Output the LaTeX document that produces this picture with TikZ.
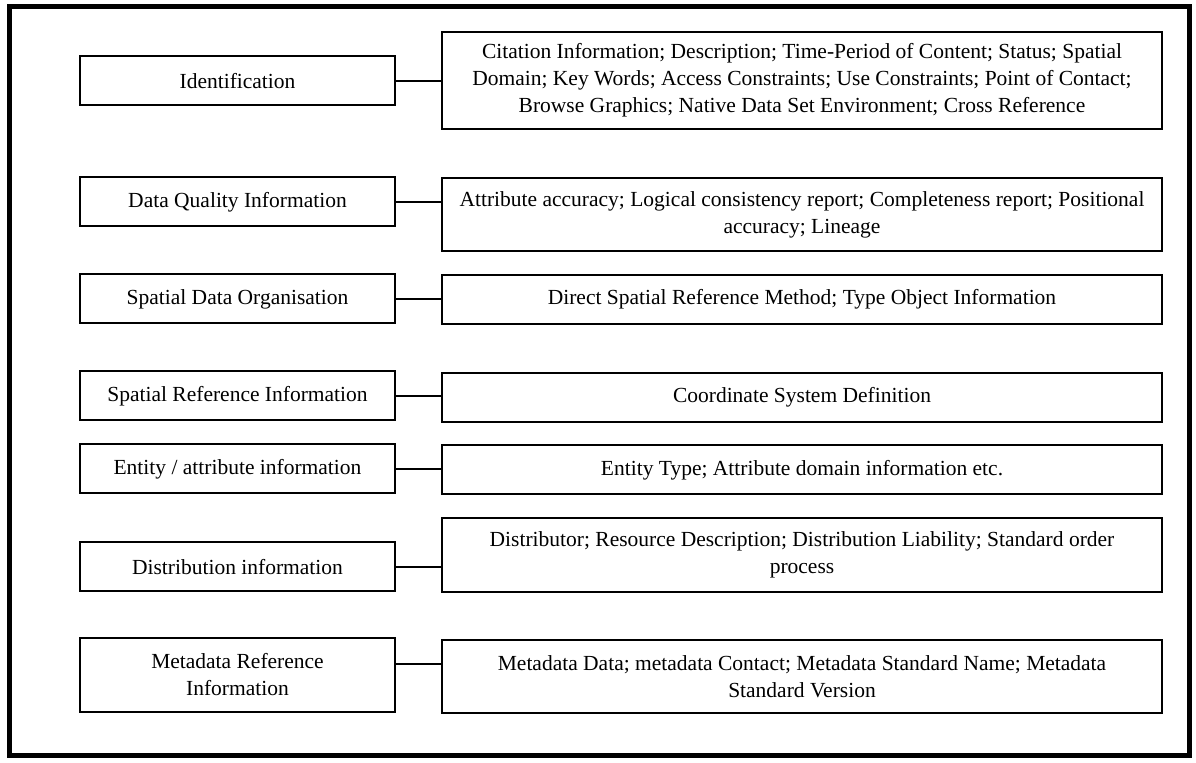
\documentclass[tikz,border=0pt]{standalone}
\usepackage{fontspec}
\setmainfont{Liberation Serif}
\usepackage{tikz}

\begin{document}
\begin{tikzpicture}[x=0.5pt, y=-0.5pt, font=\fontsize{10.75}{13.5}\selectfont]

\tikzstyle{sect}=[draw, line width=1pt, minimum width=157.5pt, minimum height=24.5pt, inner sep=0pt, align=center]
\tikzstyle{detail}=[draw, line width=1pt, minimum width=360pt, minimum height=24.5pt, inner sep=0pt, align=center]
\tikzstyle{link}=[line width=1pt]

\useasboundingbox (0,0) rectangle (1196,763);
\draw [line width=2.5pt] (9,6.5) rectangle (1189,756);

\node [sect] (ident) at (237.5,81) {Identification};
\node [detail, minimum height=48.5pt] (identd) at (802,80.5) {Citation Information; Description; Time-Period of Content; Status; Spatial\\
Domain; Key Words; Access Constraints; Use Constraints; Point of Contact;\\
Browse Graphics; Native Data Set Environment; Cross Reference};

\node [sect] (qual) at (237.5,202) {Data Quality Information};
\node [detail, minimum height=36.5pt] (quald) at (802,214.5) {Attribute accuracy; Logical consistency report; Completeness report; Positional\\
accuracy; Lineage};

\node [sect] (org) at (237.5,299) {Spatial Data Organisation};
\node [detail] (orgd) at (802,299.5) {Direct Spatial Reference Method; Type Object Information};

\node [sect] (sref) at (237.5,396) {Spatial Reference Information};
\node [detail] (srefd) at (802,397.5) {Coordinate System Definition};

\node [sect] (ent) at (237.5,469) {Entity / attribute information};
\node [detail] (entd) at (802,470) {Entity Type; Attribute domain information etc.};

\node [sect] (dist) at (237.5,567) {Distribution information};
\node [detail, minimum height=37pt] (distd) at (802,555) {Distributor; Resource Description; Distribution Liability; Standard order\\
process};

\node [sect, minimum height=37pt] (meta) at (237.5,675) {Metadata Reference\\Information};
\node [detail, minimum height=36.5pt] (metad) at (802,676.5) {Metadata Data; metadata Contact; Metadata Standard Name; Metadata\\
Standard Version};

% connectors
\draw [link] (ident.east) -- (ident.east -| identd.west);
\draw [link] (qual.east) -- (qual.east -| quald.west);
\draw [link] (org.east) -- (org.east -| orgd.west);
\draw [link] (sref.east) -- (sref.east -| srefd.west);
\draw [link] (ent.east) -- (ent.east -| entd.west);
\draw [link] (dist.east) -- (dist.east -| distd.west);
\draw [link] ([yshift=5.5pt]meta.east) -- ([yshift=5.5pt]meta.east -| metad.west);
\end{tikzpicture}
\end{document}
